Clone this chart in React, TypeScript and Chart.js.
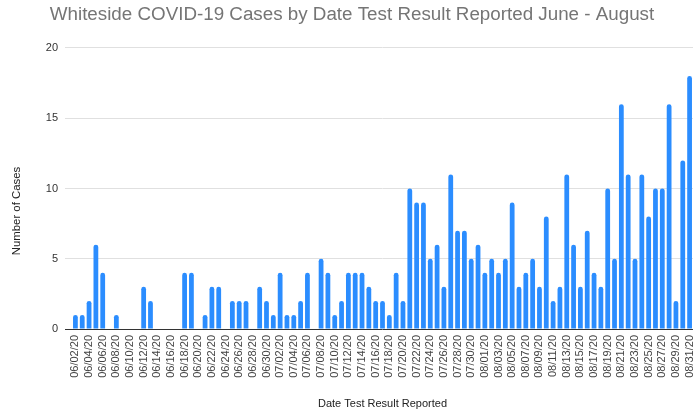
import React, { useEffect, useRef } from "react";
import { Chart, registerables } from "chart.js";

Chart.register(...registerables);

const juneLabels = [
  "06/02/20", "06/03/20", "06/04/20", "06/05/20", "06/06/20", "06/07/20", "06/08/20", "06/09/20", "06/10/20", "06/11/20",
  "06/12/20", "06/13/20", "06/14/20", "06/15/20", "06/16/20", "06/17/20", "06/18/20", "06/19/20", "06/20/20", "06/21/20",
  "06/22/20", "06/23/20", "06/24/20", "06/25/20", "06/26/20", "06/27/20", "06/28/20", "06/29/20", "06/30/20",
];
const julyLabels = [
  "07/01/20", "07/02/20", "07/03/20", "07/04/20", "07/05/20", "07/06/20", "07/07/20", "07/08/20", "07/09/20", "07/10/20",
  "07/11/20", "07/12/20", "07/13/20", "07/14/20", "07/15/20", "07/16/20", "07/17/20", "07/18/20", "07/19/20", "07/20/20",
  "07/21/20", "07/22/20", "07/23/20", "07/24/20", "07/25/20", "07/26/20", "07/27/20", "07/28/20", "07/29/20", "07/30/20",
  "07/31/20",
];
const augustLabels = [
  "08/01/20", "08/02/20", "08/03/20", "08/04/20", "08/05/20", "08/06/20", "08/07/20", "08/08/20", "08/09/20", "08/10/20",
  "08/11/20", "08/12/20", "08/13/20", "08/14/20", "08/15/20", "08/16/20", "08/17/20", "08/18/20", "08/19/20", "08/20/20",
  "08/21/20", "08/22/20", "08/23/20", "08/24/20", "08/25/20", "08/26/20", "08/27/20", "08/28/20", "08/29/20", "08/30/20",
  "08/31/20",
];

const juneCases = [1, 1, 2, 6, 4, 0, 1, 0, 0, 0, 3, 2, 0, 0, 0, 0, 4, 4, 0, 1, 3, 3, 0, 2, 2, 2, 0, 3, 2];
const julyCases = [1, 4, 1, 1, 2, 4, 0, 5, 4, 1, 2, 4, 4, 4, 3, 2, 2, 1, 4, 2, 10, 9, 9, 5, 6, 3, 11, 7, 7, 5, 6];
const augustCases = [4, 5, 4, 5, 9, 3, 4, 5, 3, 8, 2, 3, 11, 6, 3, 7, 4, 3, 10, 5, 16, 11, 5, 11, 8, 10, 10, 16, 2, 12, 18];

const yTicks = [0, 5, 10, 15, 20];

const chartTitle = "Whiteside COVID-19 Cases by Date Test Result Reported June - August";
const xTitle = "Date Test Result Reported";
const yTitle = "Number of Cases";

const FONT = "'Liberation Sans', Arial, sans-serif";

export default function App() {
  const canvasRef = useRef<HTMLCanvasElement | null>(null);

  useEffect(() => {
    const labels = [...juneLabels, ...julyLabels, ...augustLabels];
    const values = [...juneCases, ...julyCases, ...augustCases];

    const yTitlePlugin = {
      id: "yTitlePlugin",
      afterDraw(chart: any) {
        const ctx = chart.ctx;
        ctx.save();
        ctx.translate(17, 211);
        ctx.rotate(-Math.PI / 2);
        ctx.textAlign = "center";
        ctx.textBaseline = "middle";
        ctx.fillStyle = "#222";
        ctx.font = `11.4px ${FONT}`;
        ctx.fillText(yTitle, 0, 0);
        ctx.restore();
      },
    };

    const chart = new Chart(canvasRef.current as HTMLCanvasElement, {
      type: "bar",
      data: {
        labels,
        datasets: [
          {
            data: values,
            backgroundColor: "#2b8dff",
            borderRadius: { topLeft: 2.5, topRight: 2.5, bottomLeft: 0, bottomRight: 0 },
            borderSkipped: false,
            barPercentage: 0.7,
            categoryPercentage: 1,
          },
        ],
      },
      options: {
        responsive: false,
        animation: false,
        devicePixelRatio: 1,
        layout: { padding: { left: 4, right: 0, top: 0, bottom: 0 } },
        plugins: {
          legend: { display: false },
          tooltip: { enabled: false },
          title: {
            display: true,
            text: chartTitle,
            color: "#757575",
            font: { family: FONT, size: 18.8, weight: "normal" },
            padding: { top: 3.5, bottom: 21.9 },
          },
        },
        scales: {
          x: {
            grid: { display: false, drawTicks: false },
            border: { display: false },
            ticks: {
              autoSkip: false,
              minRotation: 90,
              maxRotation: 90,
              padding: 6,
              color: "#444",
              font: { family: FONT, size: 11 },
              callback: (_v: any, i: number) => (i % 2 === 0 ? labels[i] : ""),
            },
            title: {
              display: true,
              text: xTitle,
              color: "#222",
              font: { family: FONT, size: 11 },
              padding: { top: 0, bottom: 7 },
            },
            afterFit: (s: any) => {
              s.height = 89;
              s.paddingLeft = 0;
              s.paddingRight = 7;
            },
          },
          y: {
            min: yTicks[0],
            max: yTicks[yTicks.length - 1],
            border: { display: false },
            grid: {
              color: (c: any) => (c.tick && c.tick.value === 0 ? "#333" : "#e0e0e0"),
              tickLength: 7,
              drawTicks: true,
            },
            afterBuildTicks: (s: any) => {
              s.ticks = yTicks.map((v) => ({ value: v }));
            },
            ticks: {
              padding: 7,
              color: "#333",
              font: { family: FONT, size: 11 },
            },
            afterFit: (s: any) => {
              s.width = 68;
              s.paddingTop = 0;
              s.paddingBottom = 0;
            },
          },
        },
      },
      plugins: [yTitlePlugin],
    });

    return () => chart.destroy();
  }, []);

  return (
    <div style={{ position: "fixed", left: 0, top: 0, width: 700, height: 418, background: "#fff" }}>
      <canvas ref={canvasRef} width={700} height={418} />
    </div>
  );
}
